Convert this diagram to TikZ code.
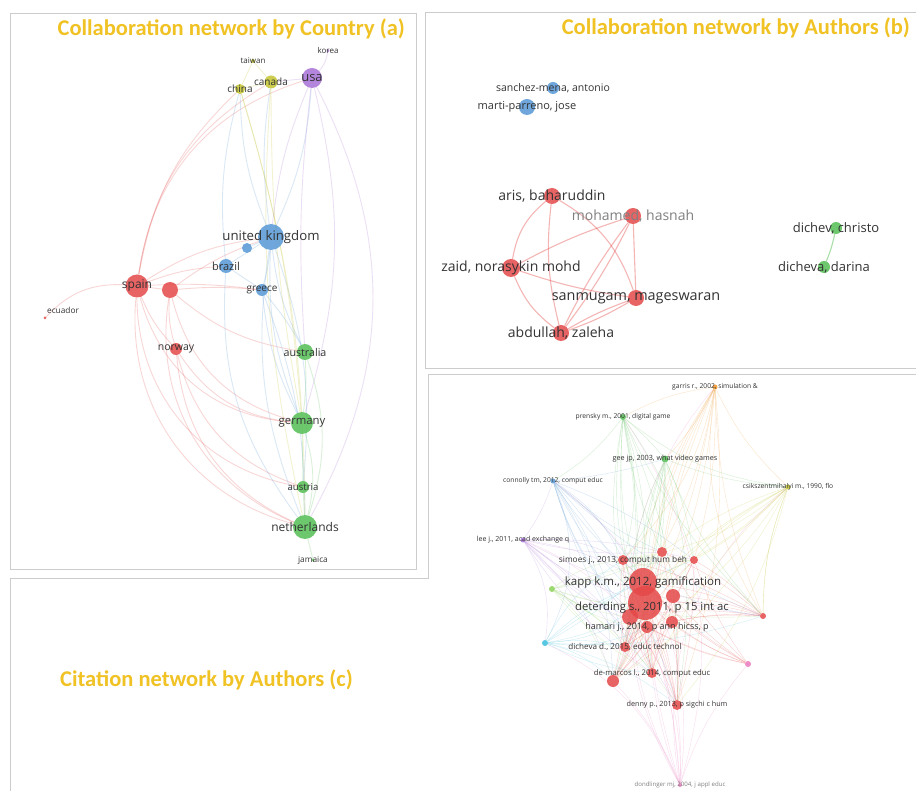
\documentclass[tikz,border=0pt]{standalone}
\usepackage{fontspec}
\setmainfont{Open Sans}
\newfontfamily\ttlfont{Carlito}
\usetikzlibrary{backgrounds}
\definecolor{gold}{RGB}{240,194,36}
\definecolor{vred}{RGB}{229,72,72}
\definecolor{vblue}{RGB}{86,152,214}
\definecolor{vgreen}{RGB}{84,190,84}
\definecolor{vpurp}{RGB}{168,112,214}
\definecolor{vyel}{RGB}{196,196,48}
\definecolor{vorng}{RGB}{240,150,40}
\definecolor{vcyan}{RGB}{60,190,220}
\definecolor{vpink}{RGB}{236,120,190}
\definecolor{vlime}{RGB}{140,210,90}

\begin{document}
\begin{tikzpicture}[x=1pt,y=-1pt,
  dot/.style={circle,fill=#1,fill opacity=0.85,inner sep=0pt},
  sz/.style={minimum size=2*#1},
  lab/.style 2 args={label={[font=\fontsize{#1}{#1}\selectfont,text=black!80,inner sep=0pt]center:{#2}}},
  lgr/.style 2 args={label={[font=\fontsize{#1}{#1}\selectfont,text=black!50,inner sep=0pt]center:{#2}}},
  edge/.style={draw=#1,draw opacity=0.22,line width=0.9pt},
  fine/.style={draw=#1,draw opacity=0.25,line width=0.4pt},
  ttl/.style={text=gold,font=\ttlfont\bfseries\fontsize{22.5}{26}\selectfont,inner sep=0pt},
  panel/.style={draw=black!20,line width=0.8pt}]
  \useasboundingbox (0,0) rectangle (916,791);

  \draw[panel] (10,13) rectangle (416,569);
  \draw[panel] (916,12) -- (425,12) -- (425,368) -- (916,368);
  \draw[panel] (10,791) -- (10,578) -- (428,578) -- (428,374) -- (916,374);

  \node[ttl,anchor=east] (ttla) at (405,29) {Collaboration network by Country (a)};
  \node[ttl,anchor=east] (ttlb) at (910,28) {Collaboration network by Authors (b)};
  \node[ttl,anchor=west] (ttlc) at (60,680) {Citation network by Authors (c)};

  \node[dot=vpurp,sz=1.5,lab={8}{korea}] (korea) at (328,51) {};
  \node[dot=vyel,sz=2,lab={8}{taiwan}] (taiwan) at (253,61) {};
  \node[dot=vyel,sz=5,lab={10}{china}] (china) at (240,89) {};
  \node[dot=vyel,sz=6.5,lab={10}{canada}] (canada) at (271,82) {};
  \node[dot=vpurp,sz=10,lab={13}{usa}] (usa) at (312,78) {};
  \node[dot=vblue,sz=13,lab={13.2}{united kingdom}] (uk) at (271,237) {};
  \node[dot=vblue,sz=5] (blue2) at (247,248) {};
  \node[dot=vblue,sz=7,lab={11}{brazil}] (brazil) at (226,266) {};
  \node[dot=vblue,sz=6,lab={10}{greece}] (greece) at (262,290) {};
  \node[dot=vred,sz=11.5,lab={12}{spain}] (spain) at (137,286) {};
  \node[dot=vred,sz=8] (red2) at (170,290) {};
  \node[dot=vred,sz=1.5] (ecuador) at (45,318) {};
  \node[lab={8.3}{ecuador},inner sep=0pt] (ecuadorl) at (63,310) {};
  \node[dot=vred,sz=6,lab={10.5}{norway}] (norway) at (176,349) {};
  \node[dot=vgreen,sz=8,lab={10.7}{australia}] (australia) at (305,352) {};
  \node[dot=vgreen,sz=11,lab={11.3}{germany}] (germany) at (302,423) {};
  \node[dot=vgreen,sz=6,lab={9.6}{austria}] (austria) at (303,487) {};
  \node[dot=vgreen,sz=12,lab={12}{netherlands}] (netherlands) at (305,527) {};
  \node[dot=vgreen,sz=1.5,lab={8.3}{jamaica}] (jamaica) at (313,560) {};

  \node[dot=vblue,sz=6,lab={10.5}{sanchez-mena, antonio}] (sanchez) at (553,88) {};
  \node[dot=vblue,sz=8,lab={11}{marti-parreno, jose}] (marti) at (527,107) {};
  \node[dot=vred,sz=8,lab={14}{aris, baharuddin}] (aris) at (552,196) {};
  \node[dot=vred,sz=8,lgr={14}{mohamed, hasnah}] (mohamed) at (633,216) {};
  \node[dot=vred,sz=9,lab={14}{zaid, norasykin mohd}] (zaid) at (511,268) {};
  \node[dot=vred,sz=8,lab={14.4}{sanmugam, mageswaran}] (sanmugam) at (636,298) {};
  \node[dot=vred,sz=8,lab={14}{abdullah, zaleha}] (abdullah) at (561,333) {};
  \node[dot=vgreen,sz=6,lab={13}{dichev, christo}] (dichev) at (836,228) {};
  \node[dot=vgreen,sz=6,lab={13}{dicheva, darina}] (dicheva) at (824,267) {};

  \node[dot=vorng,sz=2.5,lab={6.7}{garris r., 2002, simulation \&}] (garris) at (715,387) {};
  \node[dot=vgreen,sz=3,lab={6.7}{prensky m., 2001, digital game}] (prensky) at (623,417) {};
  \node[dot=vgreen,sz=3.5,lab={7.2}{gee jp, 2003, what video games}] (gee) at (665,459) {};
  \node[dot=vblue,sz=2.5,lab={6.7}{connolly tm, 2012, comput educ}] (connolly) at (553,481) {};
  \node[dot=vyel,sz=2.5,lab={6.7}{csikszentmihalyi m., 1990, flo}] (csik) at (788,487) {};
  \node[dot=vpurp,sz=2.5,lab={7}{lee j., 2011, acad exchange q}] (leej) at (523,540) {};
  \node[dot=vlime,sz=3] (lime) at (552,589) {};
  \node[dot=vcyan,sz=3] (cyan) at (545,643) {};
  \node[dot=vred,sz=5] (c1) at (662,552) {};
  \node[dot=vred,sz=4] (c2) at (694,560) {};
  \node[dot=vred,sz=17] (deter) at (645,603) {};
  \node[dot=vred,sz=7] (c3) at (673,596) {};
  \node[dot=vred,sz=8] (c4) at (630,617) {};
  \node[dot=vred,sz=6] (c5) at (672,622) {};
  \node[dot=vred,sz=5,lab={8.3}{simoes j., 2013, comput hum beh}] (simoes) at (623,560) {};
  \node[dot=vred,sz=14,lab={11.5}{kapp k.m., 2012, gamification}] (kapp) at (643,582) {};
  \node[lab={11.3}{deterding s., 2011, p 15 int ac},inner sep=0pt] (deterl) at (652,608) {};
  \node[dot=vred,sz=6,lab={9}{hamari j., 2014, p ann hicss, p}] (hamari) at (647,627) {};
  \node[dot=vred,sz=5,lab={8.1}{dicheva d., 2015, educ technol}] (dichevad) at (625,647) {};
  \node[dot=vred,sz=3] (c7) at (763,616) {};
  \node[dot=vpink,sz=3] (c8) at (748,664) {};
  \node[dot=vred,sz=6] (c6) at (613,681) {};
  \node[dot=vred,sz=5,lab={7.7}{de-marcos l., 2014, comput educ}] (demarcos) at (652,673) {};
  \node[dot=vred,sz=5,lab={7.2}{denny p., 2013, p sigchi c hum}] (denny) at (677,705) {};
  \node[dot=vpink,sz=2,lgr={6.1}{dondlinger mj, 2004, j appl educ}] (bottom) at (680,785) {};

  \begin{scope}[on background layer]
    \fill[white] (0,0) rectangle (916,791);
    \foreach \a/\b/\d in {spain/ecuador/-25,spain/norway/-10,spain/netherlands/-40,spain/germany/-35,
      spain/austria/-40,spain/uk/12,spain/brazil/8,spain/red2/0,spain/greece/5,spain/usa/32,
      spain/canada/25,spain/china/18,red2/norway/-10,red2/uk/8,red2/netherlands/-38,
      red2/germany/-30,red2/australia/-15,red2/greece/5,norway/netherlands/-30,norway/germany/-25,
      norway/austria/-28}
      \draw[edge=vred] (\a) to[bend left=\d] (\b);
    \foreach \a/\b/\d in {uk/usa/-10,uk/canada/8,uk/china/10,uk/brazil/0,uk/greece/5,
      uk/australia/-10,uk/germany/-12,uk/netherlands/-15,uk/austria/12,uk/blue2/0,
      greece/australia/5,greece/germany/-10,greece/netherlands/10,brazil/greece/0,
      brazil/netherlands/-20,brazil/china/10}
      \draw[edge=vblue] (\a) to[bend left=\d] (\b);
    \foreach \a/\b/\d in {taiwan/china/0,taiwan/canada/0,china/canada/0,china/netherlands/8,
      canada/germany/-5,china/germany/6,canada/netherlands/-8}
      \draw[edge=vyel] (\a) to[bend left=\d] (\b);
    \foreach \a/\b/\d in {usa/korea/-15,usa/canada/0,usa/netherlands/28,usa/germany/15,
      usa/australia/-5,usa/uk/-8}
      \draw[edge=vpurp] (\a) to[bend left=\d] (\b);
    \foreach \a/\b/\d in {australia/germany/5,germany/austria/0,austria/netherlands/0,
      germany/netherlands/15,netherlands/jamaica/0,australia/netherlands/18}
      \draw[edge=vgreen] (\a) to[bend left=\d] (\b);

    \foreach \a/\b/\d in {aris/zaid/-20,aris/abdullah/-10,aris/sanmugam/20,mohamed/zaid/-5,
      mohamed/abdullah/5,mohamed/abdullah/-5,mohamed/sanmugam/0,zaid/sanmugam/-5,
      zaid/abdullah/-15,sanmugam/abdullah/5,sanmugam/abdullah/-5}
      \draw[edge=vred,draw opacity=0.4,line width=1.1pt] (\a) to[bend left=\d] (\b);
    \draw[edge=vgreen,draw opacity=0.5,line width=1.1pt] (dichev) to[bend left=5] (dicheva);

    \foreach \s/\c in {garris/vorng,prensky/vgreen,gee/vgreen,connolly/vblue,csik/vyel,
      leej/vpurp,lime/vlime,cyan/vcyan}
      \foreach \t/\b in {kapp/10,deter/-10,simoes/15,hamari/-15,dichevad/10,demarcos/-10,
        denny/12,c1/-8,c2/8,c4/-12,c6/14,c7/-10}
        \draw[fine=\c] (\s) to[bend left=\b] (\t);
    \foreach \s in {kapp,deter,simoes,hamari,c1,c2,c3,c4,c5}
      \foreach \t/\b in {c7/8,c8/-8,denny/6,demarcos/-6,c6/8,dichevad/-8}
        \draw[fine=vred] (\s) to[bend left=\b] (\t);
    \foreach \s/\b in {kapp/5,deter/-5,hamari/8,c4/-10,c6/10,demarcos/-6,denny/4,c8/-10,
      connolly/30,leej/35,garris/-35,csik/-30,cyan/20,prensky/25}
      \draw[fine=vpink] (\s) to[bend left=\b] (bottom);
    \foreach \a/\b/\d/\c in {garris/prensky/-10/vorng,garris/gee/8/vorng,garris/csik/-10/vorng,
      prensky/gee/5/vgreen,prensky/connolly/10/vgreen,connolly/gee/-5/vblue,leej/connolly/-8/vpurp,
      garris/c7/-20/vorng,csik/c7/-10/vyel,leej/cyan/20/vpurp,connolly/cyan/25/vblue,
      prensky/csik/-15/vgreen,gee/csik/-8/vgreen,connolly/c7/-25/vblue}
      \draw[fine=\c] (\a) to[bend left=\d] (\b);
  \end{scope}
\end{tikzpicture}
\end{document}
